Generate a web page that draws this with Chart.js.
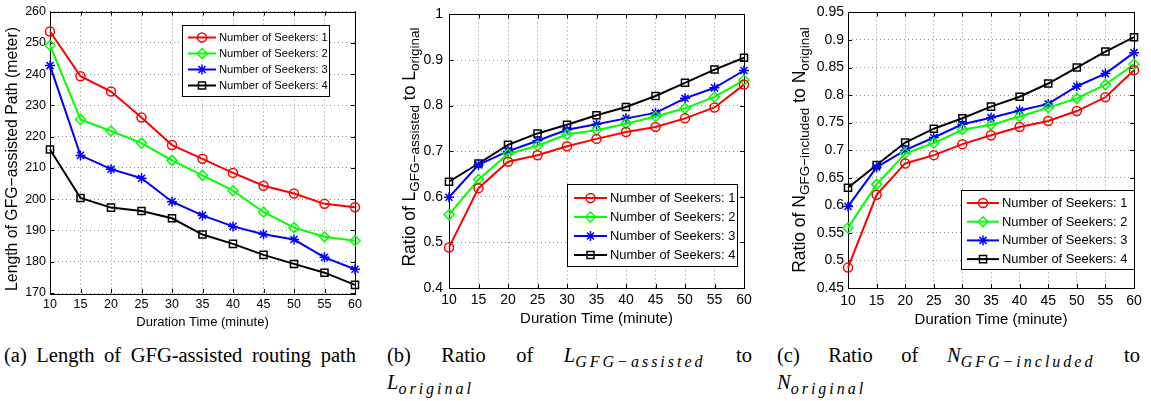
<!DOCTYPE html>
<html>
<head>
<meta charset="utf-8">
<script src="https://cdn.jsdelivr.net/npm/chart.js@4.4.0/dist/chart.umd.min.js"></script>
<style>
body { margin: 0; background: #fff; width: 1151px; height: 401px; position: relative; overflow: hidden; }
.panel { position: absolute; top: 0; height: 330px; }
.cap { position: absolute; font-family: "Liberation Serif", "Times New Roman", serif; font-size: 20.5px; line-height: 26px; color: #000; }
.m { font-style: italic; white-space: nowrap; }
.m sub { font-size: 16px; vertical-align: -5px; line-height: 0; letter-spacing: 3px; }
</style>
</head>
<body>
<div class="panel" style="left:0;width:372px"><canvas id="chartLength"></canvas></div>
<div class="panel" style="left:380px;width:382px"><canvas id="chartRatioL"></canvas></div>
<div class="panel" style="left:770px;width:381px"><canvas id="chartRatioN"></canvas></div>

<div class="cap" style="left:4px;top:342px;width:352px;text-align-last:justify">(a) Length of GFG-assisted routing path</div>
<div class="cap" style="left:387px;top:342px;width:365px;text-align-last:justify">(b) Ratio of <span class="m">L<sub>GFG−assisted</sub></span> to</div>
<div class="cap" style="left:387px;top:369px"><span class="m">L<sub>original</sub></span></div>
<div class="cap" style="left:777px;top:342px;width:363px;text-align-last:justify">(c) Ratio of <span class="m">N<sub>GFG−included</sub></span> to</div>
<div class="cap" style="left:777px;top:369px"><span class="m">N<sub>original</sub></span></div>

<script>
// Dados
const durations = ['10', '15', '20', '25', '30', '35', '40', '45', '50', '55', '60'];
const seekerLabels = ['Number of Seekers: 1', 'Number of Seekers: 2', 'Number of Seekers: 3', 'Number of Seekers: 4'];

// (a) comprimento do caminho (metros)
const pathLen1 = [253.6, 239.3, 234.4, 226.1, 217.3, 212.9, 208.4, 204.3, 201.8, 198.5, 197.4];
const pathLen2 = [249.2, 225.5, 221.8, 217.9, 212.4, 207.6, 202.7, 195.9, 190.9, 188.0, 186.7];
const pathLen3 = [242.7, 214.0, 209.6, 206.7, 199.2, 194.8, 191.3, 188.8, 187.1, 181.4, 177.6];
const pathLen4 = [215.9, 200.4, 197.3, 196.2, 193.9, 188.7, 185.7, 182.2, 179.3, 176.5, 172.6];

// (b) razão L
const ratioL1 = [0.489, 0.619, 0.677, 0.691, 0.711, 0.727, 0.742, 0.753, 0.772, 0.796, 0.846];
const ratioL2 = [0.561, 0.638, 0.694, 0.712, 0.737, 0.746, 0.760, 0.776, 0.794, 0.819, 0.856];
const ratioL3 = [0.599, 0.670, 0.700, 0.723, 0.747, 0.759, 0.772, 0.784, 0.816, 0.839, 0.877];
const ratioL4 = [0.633, 0.673, 0.714, 0.739, 0.758, 0.779, 0.797, 0.821, 0.850, 0.879, 0.905];

// (c) razão N
const ratioN1 = [0.487, 0.619, 0.676, 0.691, 0.711, 0.727, 0.742, 0.753, 0.771, 0.796, 0.845];
const ratioN2 = [0.559, 0.638, 0.694, 0.713, 0.737, 0.746, 0.761, 0.777, 0.794, 0.819, 0.856];
const ratioN3 = [0.598, 0.669, 0.700, 0.723, 0.747, 0.759, 0.772, 0.784, 0.816, 0.839, 0.877];
const ratioN4 = [0.632, 0.673, 0.714, 0.739, 0.758, 0.779, 0.797, 0.821, 0.850, 0.879, 0.905];

const seriesColors = ['#ff0000', '#00ff00', '#0000ff', '#000000'];
const seriesMarkers = ['circle', 'rectRot', 'star', 'rect'];
const markerRadius = [4.5, 5, 5, 5];
const SANS = '"Liberation Sans", Arial, sans-serif';

function makeDatasets(series) {
    return series.map((values, i) => ({
        label: seekerLabels[i],
        data: values,
        borderColor: seriesColors[i],
        backgroundColor: 'rgba(0,0,0,0)',
        borderWidth: 2,
        pointStyle: seriesMarkers[i],
        pointRadius: markerRadius[i],
        pointBorderWidth: 1.5,
        pointBorderColor: seriesColors[i],
        pointBackgroundColor: 'rgba(0,0,0,0)',
        tension: 0,
        clip: false,
    }));
}

// Texto rodado com índices (subscritos)
function drawRotated(ctx, segs, cx, cy) {
    ctx.save();
    ctx.translate(cx, cy);
    ctx.rotate(-Math.PI / 2);
    let total = 0;
    segs.forEach(s => { ctx.font = s.font; s.w = ctx.measureText(s.text).width; total += s.w; });
    let x = -total / 2;
    ctx.textAlign = 'left';
    ctx.textBaseline = 'middle';
    ctx.fillStyle = '#000';
    segs.forEach(s => { ctx.font = s.font; ctx.fillText(s.text, x, s.dy || 0); x += s.w; });
    ctx.restore();
}

// Caixa, marcas internas, legenda e títulos (estilo MATLAB)
const framePlugin = {
    id: 'frame',
    beforeDatasetsDraw(chart) {
        const { ctx, chartArea: a, scales } = chart;
        ctx.save();
        ctx.strokeStyle = '#000';
        ctx.lineWidth = 1;
        ctx.beginPath();
        const t = 4;
        scales.x.ticks.forEach((tk, i) => {
            const px = Math.round(scales.x.getPixelForTick(i)) + 0.5;
            ctx.moveTo(px, a.bottom); ctx.lineTo(px, a.bottom - t);
            ctx.moveTo(px, a.top); ctx.lineTo(px, a.top + t);
        });
        scales.y.ticks.forEach((tk, i) => {
            const py = Math.round(scales.y.getPixelForTick(i)) + 0.5;
            ctx.moveTo(a.left, py); ctx.lineTo(a.left + t, py);
            ctx.moveTo(a.right, py); ctx.lineTo(a.right - t, py);
        });
        ctx.stroke();
        ctx.strokeRect(Math.round(a.left) + 0.5, Math.round(a.top) + 0.5, Math.round(a.right - a.left), Math.round(a.bottom - a.top));
        ctx.restore();
    },
    afterDraw(chart, args, opts) {
        const { ctx, chartArea: a } = chart;
        ctx.save();
        // título do eixo x
        ctx.font = opts.xTitle.font;
        ctx.fillStyle = '#000';
        ctx.textAlign = 'center';
        ctx.textBaseline = 'middle';
        ctx.fillText('Duration Time (minute)', (a.left + a.right) / 2, opts.xTitle.y);
        // título do eixo y
        drawRotated(ctx, opts.yTitle.segs, opts.yTitle.x, opts.yTitle.y);
        // legenda
        const lg = opts.legend;
        ctx.fillStyle = '#fff';
        ctx.fillRect(lg.x, lg.y, lg.w, lg.h);
        ctx.strokeStyle = '#000';
        ctx.lineWidth = 1;
        ctx.strokeRect(lg.x + 0.5, lg.y + 0.5, lg.w, lg.h);
        chart.data.datasets.forEach((ds, i) => {
            const y = lg.row0 + i * lg.step;
            ctx.strokeStyle = ds.borderColor;
            ctx.lineWidth = ds.borderWidth;
            ctx.beginPath();
            ctx.moveTo(lg.x0, y);
            ctx.lineTo(lg.x1, y);
            ctx.stroke();
            ctx.lineWidth = ds.pointBorderWidth;
            ctx.fillStyle = 'rgba(0,0,0,0)';
            Chart.helpers.drawPoint(ctx, { pointStyle: ds.pointStyle, radius: ds.pointRadius, borderWidth: ds.pointBorderWidth, rotation: 0 }, (lg.x0 + lg.x1) / 2, y);
            ctx.fillStyle = '#000';
            ctx.font = lg.font;
            ctx.textAlign = 'left';
            ctx.textBaseline = 'middle';
            ctx.fillText(ds.label, lg.textX, y + 0.5);
        });
        ctx.restore();
    }
};

function makeChart(id, series, cfg) {
    const ctx = document.getElementById(id).getContext('2d');
    return new Chart(ctx, {
        type: 'line',
        data: { labels: durations, datasets: makeDatasets(series) },
        options: {
            responsive: true,
            maintainAspectRatio: false,
            animation: false,
            layout: { padding: { top: cfg.top, right: cfg.right, left: 0, bottom: 0 } },
            plugins: {
                legend: { display: false },
                tooltip: { enabled: false },
                frame: cfg.frame,
            },
            scales: {
                x: {
                    type: 'category',
                    offset: false,
                    afterFit: s => { s.height = 330 - cfg.bottom; },
                    grid: { color: '#8c8c8c', lineWidth: 1, drawTicks: false },
                    border: { display: false, dash: [1, 3] },
                    ticks: { color: '#000', font: { family: SANS, size: cfg.tickSize }, padding: cfg.xPad, maxRotation: 0, autoSkip: false },
                },
                y: {
                    min: cfg.min,
                    max: cfg.max,
                    afterFit: s => { s.width = cfg.left; },
                    grid: { color: '#8c8c8c', lineWidth: 1, drawTicks: false },
                    border: { display: false, dash: [1, 3] },
                    ticks: {
                        stepSize: cfg.step,
                        color: '#000',
                        font: { family: SANS, size: cfg.tickSize },
                        padding: cfg.yPad,
                        callback: v => String(+Number(v).toFixed(2)),
                    },
                },
            },
        },
        plugins: [framePlugin],
    });
}

// (a)
makeChart('chartLength', [pathLen1, pathLen2, pathLen3, pathLen4], {
    top: 10, right: 17, left: 50, bottom: 293, min: 170, max: 260, step: 10,
    tickSize: 12.5, xPad: 4, yPad: 4,
    frame: {
        xTitle: { font: '13px ' + SANS, y: 322 },
        yTitle: { x: 13, y: 159, segs: [{ text: 'Length of GFG−assisted Path (meter)', font: '15.8px ' + SANS }] },
        legend: { x: 182, y: 25, w: 147, h: 71, row0: 37.5, step: 16, x0: 188, x1: 216, textX: 219, font: '11.2px ' + SANS },
    },
});

// (b)
makeChart('chartRatioL', [ratioL1, ratioL2, ratioL3, ratioL4], {
    top: 12, right: 18, left: 69, bottom: 288, min: 0.4, max: 1, step: 0.1,
    tickSize: 14, xPad: 4, yPad: 6,
    frame: {
        xTitle: { font: '15px ' + SANS, y: 319 },
        yTitle: { x: 30, y: 147, segs: [
            { text: 'Ratio of L', font: '17.5px ' + SANS },
            { text: 'GFG−assisted', font: '13.5px ' + SANS, dy: 5 },
            { text: ' to L', font: '17.5px ' + SANS },
            { text: 'original', font: '13.5px ' + SANS, dy: 5 },
        ] },
        legend: { x: 187, y: 184, w: 170, h: 82, row0: 198, step: 19, x0: 194, x1: 227, textX: 230, font: '12.9px ' + SANS },
    },
});

// (c)
makeChart('chartRatioN', [ratioN1, ratioN2, ratioN3, ratioN4], {
    top: 12, right: 17, left: 78, bottom: 288, min: 0.45, max: 0.95, step: 0.05,
    tickSize: 14, xPad: 5, yPad: 4,
    frame: {
        xTitle: { font: '15px ' + SANS, y: 320 },
        yTitle: { x: 30, y: 150, segs: [
            { text: 'Ratio of N', font: '17.5px ' + SANS },
            { text: 'GFG−included', font: '13.5px ' + SANS, dy: 5 },
            { text: ' to N', font: '17.5px ' + SANS },
            { text: 'original', font: '13.5px ' + SANS, dy: 5 },
        ] },
        legend: { x: 191, y: 190, w: 173, h: 79, row0: 203, step: 18.7, x0: 197, x1: 229, textX: 232, font: '12.9px ' + SANS },
    },
});
</script>
</body>
</html>
